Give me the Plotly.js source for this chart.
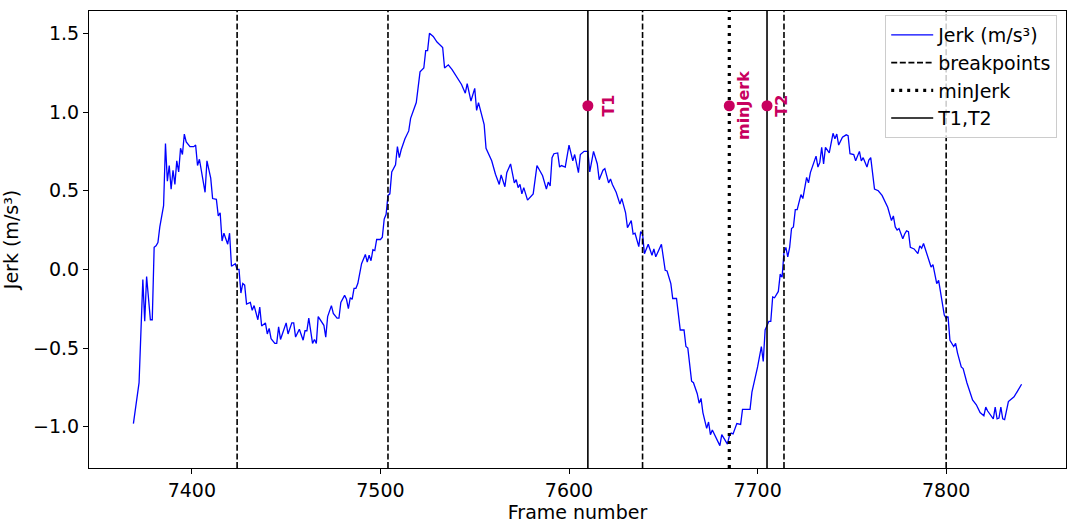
<!DOCTYPE html>
<html>
<head>
<meta charset="utf-8">
<script src="https://cdn.plot.ly/plotly-3.0.1.min.js"></script>
<style>html,body{margin:0;padding:0;background:#fff}#chart{width:1076px;height:523px}</style>
</head>
<body>
<div id="chart"></div>
<script>
// Frame numbers (x) and jerk values (y)
const framesA = [
7369,7370,7372,7374,7375,7376,7378,7379,7380,7381,
7382,7383,7385,7386,7387,7388,7389,7390,7391,7392,
7393,7394,7395,7396,7397,7399,7401,7402,7403,7404,
7406,7407,7408,7410,7411,7413,7414,7415,7416,7417,
7419,7420,7421,7423,7424,7425,7426,7427,7428,7429,
7431,7432,7433,7435,7436,7437,7439,7440,7441,7442,
7444,7445,7446,7447,7448,7450,7451,7453,7454,7455,
7457,7459,7460,7461,7462,7464,7465,7466,7467,7469,
7470,7471,7472,7474,7475,7477,7478,7479,7481,7482,
7483,7484,7485,7486,7487,7488,7490,7492,7493,7494,
7495,7496,7497,7498,7500,7501,7502,7503,7504,7505];
const jerkA = [
-0.98,-0.89,-0.72,-0.065,-0.33,-0.045,-0.32,-0.32,0.14,0.15,
0.17,0.27,0.405,0.80,0.56,0.66,0.51,0.63,0.54,0.69,
0.62,0.77,0.73,0.86,0.81,0.78,0.78,0.79,0.66,0.70,
0.57,0.49,0.69,0.58,0.45,0.445,0.34,0.36,0.18,0.23,
0.16,0.23,0.02,0.036,0.0,0.0,-0.15,-0.09,-0.10,-0.22,
-0.21,-0.26,-0.23,-0.32,-0.24,-0.36,-0.34,-0.41,-0.375,-0.44,
-0.47,-0.47,-0.365,-0.445,-0.41,-0.34,-0.41,-0.34,-0.34,-0.43,
-0.38,-0.45,-0.39,-0.39,-0.31,-0.47,-0.445,-0.47,-0.30,-0.34,
-0.355,-0.43,-0.30,-0.23,-0.28,-0.31,-0.31,-0.21,-0.165,-0.19,
-0.25,-0.18,-0.19,-0.12,-0.12,-0.09,0.036,0.095,0.046,0.09,
0.055,0.125,0.12,0.19,0.19,0.205,0.32,0.35,0.47,0.48];

const framesB = [
7506,7508,7509,7510,7511,7513,7515,7516,7519,7521,
7523,7524,7525,7526,7528,7530,7533,7534,7536,7538,
7540,7543,7545,7546,7548,7550,7551,7552,7555,7556,
7559,7561,7563,7564,7566,7567,7569,7570,7571,7572,
7573,7574,7575,7576,7578,7581,7583,7586,7588,7589,
7590,7591,7592,7594,7595,7596,7598,7600,7602,7603,
7605,7606,7608,7609,7610,7611,7613,7615,7616,7618];
const jerkB = [
0.62,0.665,0.78,0.71,0.76,0.83,0.88,0.96,1.06,1.255,
1.28,1.39,1.39,1.50,1.48,1.445,1.41,1.28,1.30,1.27,
1.23,1.175,1.12,1.18,1.07,1.15,1.01,1.06,0.92,0.77,
0.69,0.605,0.54,0.60,0.525,0.615,0.67,0.60,0.55,0.57,
0.52,0.54,0.48,0.52,0.44,0.48,0.66,0.595,0.51,0.555,
0.53,0.71,0.735,0.74,0.65,0.66,0.65,0.79,0.69,0.73,
0.615,0.73,0.75,0.75,0.75,0.62,0.75,0.67,0.57,0.63];

const framesC = [
7619,7621,7622,7623,7625,7627,7628,7630,7631,7633,
7634,7635,7637,7638,7639,7640,7642,7644,7645,7646,
7649,7651,7652,7654,7655,7657,7659,7661,7662,7663,
7665,7666,7667,7668,7669,7670,7671,7673,7674,7675,
7676,7678,7680,7681,7683,7684,7685,7686,7687,7689,
7691,7692,7694,7696,7697,7699,7700,7702,7703,7704,
7706,7707,7708,7709,7711,7712,7713,7714,7715,7716];
const jerkC = [
0.64,0.55,0.575,0.54,0.49,0.415,0.45,0.36,0.265,0.31,
0.225,0.23,0.145,0.24,0.225,0.10,0.16,0.09,0.13,0.08,
0.16,-0.006,-0.01,-0.09,-0.185,-0.185,-0.385,-0.385,-0.49,-0.50,
-0.71,-0.72,-0.755,-0.79,-0.85,-0.82,-0.91,-1.01,-0.97,-1.05,
-1.02,-1.07,-1.12,-1.05,-1.09,-1.11,-1.06,-1.04,-1.045,-0.98,
-0.985,-0.89,-0.89,-0.89,-0.78,-0.68,-0.62,-0.49,-0.585,-0.385,
-0.33,-0.33,-0.175,-0.18,-0.14,-0.03,-0.05,0.11,0.14,0.08];

const framesD = [
7717,7718,7719,7720,7721,7723,7724,7726,7727,7728,
7730,7731,7732,7733,7734,7735,7736,7738,7740,7741,
7742,7743,7745,7747,7748,7749,7751,7752,7754,7755,
7756,7758,7759,7760,7762,7764,7766,7769,7771,7772,
7773,7774,7775,7777,7778,7779,7780,7781,7783,7785,
7786,7787,7788,7790,7792,7793,7794,7795,7796,7797,
7799,7800,7801,7802,7804,7805,7806,7808,7809,7811,
7813,7814,7816,7818,7820,7821,7822,7824,7825,7826,
7827,7828,7829,7830,7831,7833,7836,7838,7840];
const jerkD = [
0.14,0.26,0.27,0.38,0.38,0.475,0.45,0.585,0.55,0.615,
0.68,0.72,0.65,0.68,0.775,0.67,0.775,0.74,0.865,0.83,
0.86,0.79,0.84,0.855,0.85,0.735,0.73,0.69,0.75,0.69,
0.71,0.65,0.695,0.71,0.51,0.50,0.47,0.395,0.31,0.34,
0.27,0.25,0.26,0.195,0.225,0.245,0.24,0.14,0.13,0.10,
0.15,0.135,0.165,0.095,0.015,0.03,-0.02,-0.09,-0.07,-0.145,
-0.29,-0.31,-0.30,-0.45,-0.49,-0.47,-0.53,-0.62,-0.63,-0.72,
-0.79,-0.83,-0.86,-0.91,-0.93,-0.875,-0.90,-0.93,-0.95,-0.875,
-0.95,-0.945,-0.875,-0.95,-0.955,-0.84,-0.81,-0.77,-0.73];

const breakpoints = [7424, 7504, 7639, 7714, 7800];
const minJerkFrame = [7685];
const tFrames = [7610, 7705];
const markerFrames = [7610, 7685, 7705];
const markerValue = 1.04;
const markerLabels = ["T1", "minJerk", "T2"];

const frames = framesA.concat(framesB, framesC, framesD);
const jerk = jerkA.concat(jerkB, jerkC, jerkD);

const yRange = [-1.262, 1.642];
const xRange = [7345.45, 7863.55];

function vlines(xs) {
  const x = [], y = [];
  xs.forEach(v => { x.push(v, v, null); y.push(yRange[0], yRange[1], null); });
  return {x, y};
}

const FONT = "DejaVu Sans, sans-serif";
const MAG = "#C8005F";

const bp = vlines(breakpoints), mj = vlines(minJerkFrame), tt = vlines(tFrames);

const traces = [
  {x: frames, y: jerk, type: "scatter", mode: "lines", name: "Jerk (m/s³)",
   line: {color: "#0000ff", width: 1.3}},
  {x: bp.x, y: bp.y, type: "scatter", mode: "lines", name: "breakpoints",
   line: {color: "#000000", width: 1.6, dash: "6px,2.6px"}},
  {x: mj.x, y: mj.y, type: "scatter", mode: "lines", name: "minJerk",
   line: {color: "#000000", width: 3.2, dash: "3px,5px"}},
  {x: tt.x, y: tt.y, type: "scatter", mode: "lines", name: "T1,T2",
   line: {color: "#000000", width: 1.6}},
  {x: markerFrames, y: markerFrames.map(() => markerValue), type: "scatter", mode: "markers",
   showlegend: false, marker: {color: MAG, size: 11}}
];

const shifts = [21, 14, 15];
const annotations = markerFrames.map((f, i) => ({
  x: f, y: markerValue, xref: "x", yref: "y", text: "<b>" + markerLabels[i] + "</b>",
  showarrow: false, textangle: -90, xshift: shifts[i], xanchor: "center", yanchor: "middle",
  font: {family: FONT, size: 16, color: MAG}
}));

const layout = {
  width: 1076, height: 523,
  margin: {l: 89, r: 10, t: 11, b: 55},
  paper_bgcolor: "#ffffff", plot_bgcolor: "#ffffff",
  font: {family: FONT, size: 19, color: "#000000"},
  showlegend: true,
  legend: {x: 0.991, y: 0.991, xanchor: "right", yanchor: "top", itemwidth: 42,
    bgcolor: "rgba(255,255,255,0.8)", bordercolor: "#cccccc", borderwidth: 1,
    font: {family: FONT, size: 19}},
  xaxis: {range: xRange, dtick: 100, tick0: 7400, showgrid: false, zeroline: false,
    showline: true, mirror: true, linecolor: "#000000", linewidth: 1,
    ticks: "outside", ticklen: 5, tickwidth: 1, tickcolor: "#000",
    title: {text: "Frame number", font: {family: FONT, size: 19}, standoff: 3}},
  yaxis: {range: yRange, dtick: 0.5, tick0: 0, tickformat: ".1f", showgrid: false, zeroline: false,
    showline: true, mirror: true, linecolor: "#000000", linewidth: 1,
    ticks: "outside", ticklen: 5, tickwidth: 1, tickcolor: "#000",
    title: {text: "Jerk (m/s³)", font: {family: FONT, size: 19}, standoff: 10}},
  annotations: annotations
};

Plotly.newPlot("chart", traces, layout, {displayModeBar: false, staticPlot: true});
</script>
</body>
</html>
